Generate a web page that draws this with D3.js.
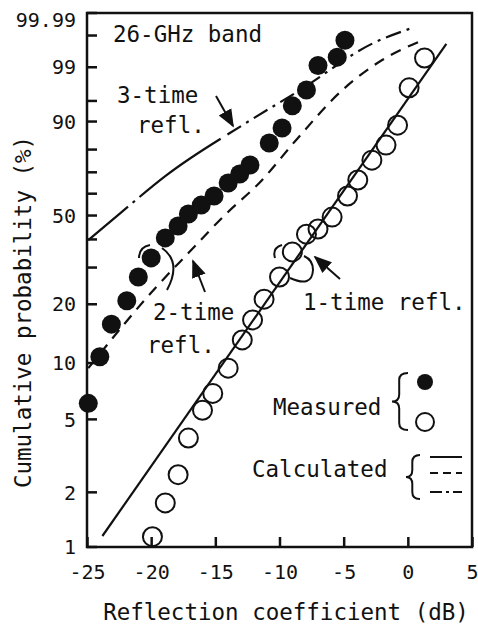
<!DOCTYPE html>
<meta charset="utf-8">
<title>reflection-coefficient</title>
<style>
body { margin: 0; background: #fff; }
text { font-family: "DejaVu Sans Mono", monospace; fill: #111; }
</style>
<body>
<script src="https://d3js.org/d3.v7.min.js"></script>
<script>
var width = 478, height = 629;

// measured points: reflection coefficient (dB) and cumulative probability (%)
var filledDb  = [-24.9, -24.0, -23.1, -21.9, -21.0, -20.0, -18.9, -17.9, -17.1, -16.1, -15.1, -14.0, -13.1, -12.3, -10.8, -9.8, -9.0, -7.9, -7.0, -5.5, -4.9];
var filledPct = [6.1, 10.8, 15.9, 20.8, 27.1, 33.2, 40.6, 45.5, 50.7, 54.7, 58.9, 65.0, 69.2, 73.3, 82.6, 88.0, 94.0, 96.8, 99.1, 99.47, 99.85];
var openDb  = [-19.9, -18.9, -17.9, -17.1, -16.0, -15.2, -14.0, -12.9, -12.1, -11.2, -10.0, -9.0, -7.9, -7.0, -5.9, -4.7, -3.9, -2.8, -1.7, -0.8, 0.1, 1.3];
var openPct = [1.14, 1.75, 2.5, 3.96, 5.6, 6.9, 9.4, 13.2, 16.7, 21.2, 27.1, 35.3, 42.1, 44.2, 49.3, 58.9, 66.4, 75.5, 81.8, 88.9, 97.1, 99.44];

// calculated curves
var oneDb  = [-23.8, 3.0];
var onePct = [1.15, 99.8];
var twoDb  = [-24.9, -19.6, -17.1, -14.1, -11.5, -8.7, -5.1, -2.0, 1.0];
var twoPct = [9.4, 24.3, 34.9, 51.1, 65.5, 83.8, 96.8, 99.36, 99.84];
var threeDb  = [-24.9, -22.4, -18.8, -12.6, -8.4, -2.7, 0.3];
var threePct = [39.7, 51.1, 68.7, 89.6, 96.8, 99.81, 99.95];

var xTicks = [-25, -20, -15, -10, -5, 0, 5];
var yTicks = [1, 2, 5, 10, 20, 30, 40, 50, 60, 70, 80, 90, 95, 99, 99.9, 99.99];
var yLabels = [1, 2, 5, 10, 20, 50, 90, 99, 99.99];

var svg = d3.select('body').append('svg')
    .attr('width', width)
    .attr('height', height);

// Rayleigh probability paper: log(-ln(1-P))
function ray(p) { return Math.log10(-Math.log(1 - p / 100)); }
var x = d3.scaleLinear().domain([-25, 5]).range([87, 472]);
var yv = d3.scaleLinear().domain([ray(1), ray(99.99)]).range([547, 13]);
function y(p) { return yv(ray(p)); }

var xAxis = d3.axisBottom(x)
    .tickValues(xTicks)
    .tickSize(-10)
    .tickPadding(18)
    .tickFormat(function(d) { return String(d); });
var gx = svg.append('g')
    .attr('transform', 'translate(0,547)')
    .call(xAxis);
gx.select('.domain').remove();
gx.selectAll('line').attr('stroke', '#111').attr('stroke-width', 2.5);
gx.selectAll('text').attr('font-size', 20).attr('fill', '#111');

var gy = svg.append('g').attr('transform', 'translate(87,0)');
gy.selectAll('line')
    .data(yTicks)
  .enter().append('line')
    .attr('x1', 0).attr('x2', 10)
    .attr('y1', y).attr('y2', y)
    .attr('stroke', '#111').attr('stroke-width', 2.5);
gy.selectAll('text')
    .data(yLabels)
  .enter().append('text')
    .attr('x', -11)
    .attr('y', function(d) { return d === 99.99 ? y(d) + 7 : y(d); })
    .attr('dy', '0.36em')
    .attr('text-anchor', 'end')
    .attr('font-size', 20)
    .text(function(d) { return d; });

svg.append('rect')
    .attr('x', 87).attr('y', 13)
    .attr('width', 385).attr('height', 534)
    .attr('fill', 'none')
    .attr('stroke', '#111')
    .attr('stroke-width', 2.5);

var line = d3.line()
    .x(function(d) { return x(d[0]); })
    .y(function(d) { return y(d[1]); })
    .curve(d3.curveMonotoneX);

svg.append('path')
    .attr('d', line(d3.zip(oneDb, onePct)))
    .attr('fill', 'none').attr('stroke', '#111').attr('stroke-width', 2.2);
svg.append('path')
    .attr('d', line(d3.zip(twoDb, twoPct)))
    .attr('fill', 'none').attr('stroke', '#111').attr('stroke-width', 2.2)
    .attr('stroke-dasharray', '11,8');
var three = svg.append('path')
    .attr('d', line(d3.zip(threeDb, threePct)))
    .attr('fill', 'none').attr('stroke', '#111').attr('stroke-width', 2.2);
// hand drawn look: long strokes low down, dash-dot further up
var len = three.node().getTotalLength();
var dash = [52, 6, 3, 6, 100, 8];
while (d3.sum(dash) < len) dash = dash.concat([16, 6, 3, 6]);
three.attr('stroke-dasharray', dash.join(','));

svg.selectAll('circle.filled')
    .data(d3.zip(filledDb, filledPct))
  .enter().append('circle')
    .attr('class', 'filled')
    .attr('cx', function(d) { return x(d[0]); })
    .attr('cy', function(d) { return y(d[1]); })
    .attr('r', 9.5)
    .attr('fill', '#111');
svg.selectAll('circle.open')
    .data(d3.zip(openDb, openPct))
  .enter().append('circle')
    .attr('class', 'open')
    .attr('cx', function(d) { return x(d[0]); })
    .attr('cy', function(d) { return y(d[1]); })
    .attr('r', 9.5)
    .attr('fill', 'none')
    .attr('stroke', '#111')
    .attr('stroke-width', 2);

// annotations
svg.append('defs').append('marker')
    .attr('id', 'arrow')
    .attr('viewBox', '0 0 10 10')
    .attr('refX', 9).attr('refY', 5)
    .attr('markerWidth', 9).attr('markerHeight', 9)
    .attr('orient', 'auto')
  .append('path')
    .attr('d', 'M0,1L10,5L0,9Z')
    .attr('fill', '#111');

function label(t, px, py, size) {
  svg.append('text').attr('x', px).attr('y', py)
      .attr('font-size', size || 22.5).text(t);
}
label('26-GHz band', 113, 42);
label('3-time', 117, 103);
label('refl.', 137, 133);
label('2-time', 153, 320);
label('refl.', 147, 353);
label('1-time refl.', 303, 310);
label('Measured', 273, 415);
label('Calculated', 252, 477);

function arrow(x1, y1, x2, y2) {
  svg.append('line')
      .attr('x1', x1).attr('y1', y1).attr('x2', x2).attr('y2', y2)
      .attr('stroke', '#111').attr('stroke-width', 2)
      .attr('marker-end', 'url(#arrow)');
}
arrow(216, 96, 233, 126);
arrow(205, 292, 193, 261);
arrow(340, 279, 315, 257);

// little bracket arcs marking the curves
function arc(d) {
  svg.append('path').attr('d', d)
      .attr('fill', 'none').attr('stroke', '#111').attr('stroke-width', 2);
}
arc('M150,245 Q139,247 139,258');
arc('M162,248 Q182,262 167,290');
arc('M282,245 Q272,248 275,258');
arc('M290,278 Q312,288 313,270 Q313,260 304,256');

function brace(bx, y0, y1, w) {
  var m = (y0 + y1) / 2, r = 7, c = bx + w * 0.45;
  arc('M' + (bx + w) + ',' + y0 + ' Q' + c + ',' + y0 + ' ' + c + ',' + (y0 + r) +
      ' L' + c + ',' + (m - r) + ' Q' + c + ',' + m + ' ' + bx + ',' + m +
      ' Q' + c + ',' + m + ' ' + c + ',' + (m + r) +
      ' L' + c + ',' + (y1 - r) + ' Q' + c + ',' + y1 + ' ' + (bx + w) + ',' + y1);
}
brace(392, 373, 430, 16);
brace(406, 455, 499, 14);

svg.append('circle').attr('cx', 425).attr('cy', 382).attr('r', 8).attr('fill', '#111');
svg.append('circle').attr('cx', 425).attr('cy', 422).attr('r', 9)
    .attr('fill', 'none').attr('stroke', '#111').attr('stroke-width', 2);
[[457, null], [473, '8,5'], [492, '12,4,3,4']].forEach(function(l) {
  svg.append('line')
      .attr('x1', 430).attr('x2', 462).attr('y1', l[0]).attr('y2', l[0])
      .attr('stroke', '#111').attr('stroke-width', 2)
      .attr('stroke-dasharray', l[1]);
});

svg.append('text')
    .attr('transform', 'translate(31,312) rotate(-90)')
    .attr('text-anchor', 'middle')
    .attr('font-size', 22.5)
    .text('Cumulative probability (%)');
svg.append('text')
    .attr('x', 286).attr('y', 620)
    .attr('text-anchor', 'middle')
    .attr('font-size', 22.5)
    .text('Reflection coefficient (dB)');
</script>
